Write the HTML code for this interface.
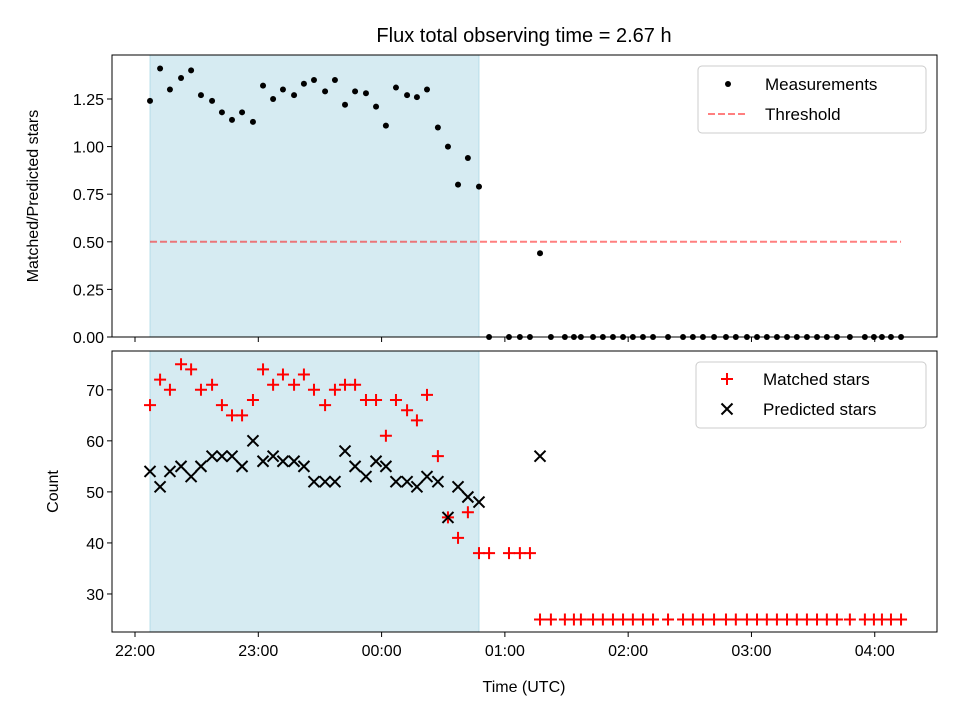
<!DOCTYPE html>
<html><head><meta charset="utf-8">
<style>
body{margin:0;background:#fff;}
svg{display:block;font-family:"Liberation Sans","DejaVu Sans",sans-serif;}
</style></head>
<body>
<svg id="chart" width="960" height="720" viewBox="0 0 960 720"></svg>
<script>
// time in minutes after 22:00 UTC
const ratioTimes = [7.3,12.2,17,22.4,27.3,32.1,37.5,42.3,47.2,52.1,57.4,62.3,67.2,72,77.4,82.2,87.1,92.5,97.3,102.2,107.1,112.4,117.3,122.1,127,132.4,137.2,142.1,147.4,152.3,157.2,162,167.4,172.3,182,187.3,192.2,197.1,202.4,209.2,213.6,217,222.9,227.7,232.6,237.5,242.3,247.2,252.1,259.4,266.7,271.5,276.4,281.8,287.6,292.4,297.8,302.7,307.5,312.4,317.3,322.1,327,331.9,336.7,341.6,347.9,355.2,359.6,363.5,367.9,372.8];
const ratioValues = [1.24,1.41,1.30,1.36,1.40,1.27,1.24,1.18,1.14,1.18,1.13,1.32,1.25,1.30,1.27,1.33,1.35,1.29,1.35,1.22,1.29,1.28,1.21,1.11,1.31,1.27,1.26,1.30,1.10,1.00,0.80,0.94,0.79,0,0,0,0,0.44,0,0,0,0,0,0,0,0,0,0,0,0,0,0,0,0,0,0,0,0,0,0,0,0,0,0,0,0,0,0,0,0,0,0];
const matchedTimes = ratioTimes;
const matchedValues = [67,72,70,75,74,70,71,67,65,65,68,74,71,73,71,73,70,67,70,71,71,68,68,61,68,66,64,69,57,45,41,46,38,38,38,38,38,25,25,25,25,25,25,25,25,25,25,25,25,25,25,25,25,25,25,25,25,25,25,25,25,25,25,25,25,25,25,25,25,25,25,25];
const predictedTimes = [7.3,12.2,17,22.4,27.3,32.1,37.5,42.3,47.2,52.1,57.4,62.3,67.2,72,77.4,82.2,87.1,92.5,97.3,102.2,107.1,112.4,117.3,122.1,127,132.4,137.2,142.1,147.4,152.3,157.2,162,167.4,197.1];
const predictedValues = [54,51,54,55,53,55,57,57,57,55,60,56,57,56,56,55,52,52,52,58,55,53,56,55,52,52,51,53,52,45,51,49,48,57];
const threshold = 0.5;
const shadeStart = 7.3, shadeEnd = 167.4;
const xTickLabels = ["22:00","23:00","00:00","01:00","02:00","03:00","04:00"];
const xTickMinutes = [0,60,120,180,240,300,360];
const topTicks = [0,0.25,0.5,0.75,1.0,1.25];
const botTicks = [30,40,50,60,70];

const NS="http://www.w3.org/2000/svg";
const svg=document.getElementById('chart');
function el(t,a,p){const e=document.createElementNS(NS,t);for(const k in a)e.setAttribute(k,a[k]);(p||svg).appendChild(e);return e;}
const L=112,R=937;
const xMin=-11.2,xMax=390.3;
function X(m){return L+(m-xMin)/(xMax-xMin)*(R-L);}
const T0=55,T1=337, B0=351,B1=632;
function YT(v){return T1-(v-0)/(1.481-0)*(T1-T0);}
function YB(v){return B1-(v-22.55)/(77.6-22.55)*(B1-B0);}

// title
let t=el('text',{x:524,y:42,'font-size':20,'text-anchor':'middle',fill:'#000'});t.textContent='Flux total observing time = 2.67 h';



// shades
[[T0,T1,'top'],[B0,B1,'bottom']].forEach(([a,b,n])=>{
  const r=el('rect',{x:X(shadeStart),y:a,width:X(shadeEnd)-X(shadeStart),height:b-a,fill:'#add8e6','fill-opacity':0.5,stroke:'#add8e6','stroke-opacity':0.8});
  
  
});

// threshold
const th=el('line',{x1:X(ratioTimes[0]),x2:X(ratioTimes[ratioTimes.length-1]),y1:YT(threshold),y2:YT(threshold),stroke:'#ff0000','stroke-opacity':0.5,'stroke-width':2,'stroke-dasharray':'7,3'});



// measurements
ratioTimes.forEach((m,i)=>{
  const c=el('circle',{cx:X(m),cy:YT(ratioValues[i]),r:3,fill:'#000'});
  
  
});
function plus(x,y,g){el('path',{d:`M${x-6},${y}H${x+6}M${x},${y-6}V${y+6}`,stroke:'#ff0000','stroke-width':2},g);}
function cross(x,y,g){el('path',{d:`M${x-5.5},${y-5.5}L${x+5.5},${y+5.5}M${x-5.5},${y+5.5}L${x+5.5},${y-5.5}`,stroke:'#000','stroke-width':2},g);}
matchedTimes.forEach((m,i)=>{
  const g=el('g',{});
  
  
  plus(X(m),YB(matchedValues[i]),g);
});
predictedTimes.forEach((m,i)=>{
  const g=el('g',{});
  
  
  cross(X(m),YB(predictedValues[i]),g);
});

// axes frames
[[T0,T1,'top-axes-frame'],[B0,B1,'bottom-axes-frame']].forEach(([a,b,n])=>{
  const r=el('rect',{x:L,y:a,width:R-L,height:b-a,fill:'none',stroke:'#000','stroke-width':1});
  
  
});
// x ticks
xTickMinutes.forEach((m,i)=>{
  const x=X(m);
  el('line',{x1:x,x2:x,y1:T1,y2:T1+5,stroke:'#000'});
  el('line',{x1:x,x2:x,y1:B1,y2:B1+5,stroke:'#000'});
  const tx=el('text',{x:x,y:B1+24,'font-size':16,'text-anchor':'middle'});tx.textContent=xTickLabels[i];
  
  
});
topTicks.forEach(v=>{
  const y=YT(v);el('line',{x1:L-5,x2:L,y1:y,y2:y,stroke:'#000'});
  const tx=el('text',{x:L-8,y:y+6,'font-size':16,'text-anchor':'end'});tx.textContent=v.toFixed(2);
  
  
});
botTicks.forEach(v=>{
  const y=YB(v);el('line',{x1:L-5,x2:L,y1:y,y2:y,stroke:'#000'});
  const tx=el('text',{x:L-8,y:y+6,'font-size':16,'text-anchor':'end'});tx.textContent=v;
  
  
});
let yl=el('text',{x:0,y:0,'font-size':16,'text-anchor':'middle',transform:`translate(38,${(T0+T1)/2}) rotate(-90)`});yl.textContent='Matched/Predicted stars';


let yl2=el('text',{x:0,y:0,'font-size':16,'text-anchor':'middle',transform:`translate(58,${(B0+B1)/2}) rotate(-90)`});yl2.textContent='Count';


let xl=el('text',{x:524,y:692,'font-size':16,'text-anchor':'middle'});xl.textContent='Time (UTC)';



// legends
const lg1=el('g',{});


el('rect',{x:698,y:66,width:228,height:67,rx:4,fill:'#fff','fill-opacity':0.8,stroke:'#ccc'},lg1);
el('circle',{cx:728,cy:84,r:3,fill:'#000'},lg1);
let a=el('text',{x:765,y:90,'font-size':17},lg1);a.textContent='Measurements';
el('line',{x1:708,x2:748,y1:114,y2:114,stroke:'#ff0000','stroke-opacity':0.5,'stroke-width':2,'stroke-dasharray':'7,3'},lg1);
a=el('text',{x:765,y:120,'font-size':17},lg1);a.textContent='Threshold';
const lg2=el('g',{});


el('rect',{x:696,y:362,width:230,height:66,rx:4,fill:'#fff','fill-opacity':0.8,stroke:'#ccc'},lg2);
plus(727,379,lg2);
a=el('text',{x:763,y:385,'font-size':17},lg2);a.textContent='Matched stars';
cross(727,409,lg2);
a=el('text',{x:763,y:415,'font-size':17},lg2);a.textContent='Predicted stars';
</script>
</body></html>
